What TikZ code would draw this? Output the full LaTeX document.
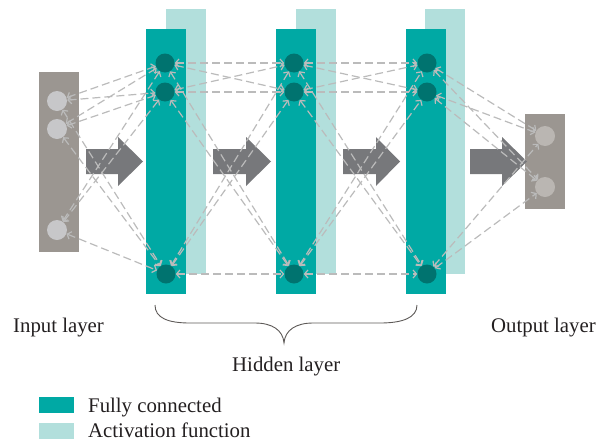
\documentclass[tikz,border=0pt]{standalone}
\usepackage{fontspec}
\setmainfont{Liberation Serif}
\usetikzlibrary{arrows.meta}
\definecolor{tealc}{HTML}{00A9A4}
\definecolor{lteal}{HTML}{B2DFDC}
\definecolor{dteal}{HTML}{00736F}
\definecolor{boxgray}{HTML}{9B9691}
\definecolor{incirc}{HTML}{C7C7C9}
\definecolor{outcirc}{HTML}{BAB6B2}
\definecolor{arrowc}{HTML}{77787B}
\definecolor{linec}{HTML}{BBBBBB}
\definecolor{textc}{HTML}{231F20}
\definecolor{bracec}{HTML}{5E5A58}
\tikzset{
  fcbar/.style={fill=tealc, draw=none, minimum width=40pt, minimum height=265pt, inner sep=0pt},
  actbar/.style={fill=lteal, draw=none, minimum width=40pt, minimum height=265pt, inner sep=0pt},
  graybox/.style={fill=boxgray, draw=none, minimum width=40pt, inner sep=0pt},
  hnode/.style={circle, fill=dteal, minimum size=19pt, inner sep=0pt},
  inode/.style={circle, fill=incirc, minimum size=20pt, inner sep=0pt},
  onode/.style={circle, fill=outcirc, minimum size=20pt, inner sep=0pt},
  conn/.style={draw=linec, line width=1.2pt, dash pattern=on 8pt off 4pt,
    {Straight Barb[length=3.5pt,width=8pt]}-{Straight Barb[length=3.5pt,width=8pt]}},
  bigarrow/.style={fill=arrowc, draw=none},
  lbl/.style={font=\fontsize{20.8}{24}\selectfont, text=textc, inner sep=0pt, anchor=base west},
  legbox/.style={minimum width=35pt, minimum height=16pt, inner sep=0pt, draw=none}
}
\begin{document}
\begin{tikzpicture}[x=1pt, y=-1pt]
\useasboundingbox (0,0) rectangle (599,442);
% activation bars
\node[actbar] (a1) at (186,141.5) {};
\node[actbar] (a2) at (316,141.5) {};
\node[actbar] (a3) at (445,141.5) {};
% fully connected bars
\node[fcbar] (f1) at (166,161.5) {};
\node[fcbar] (f2) at (296,161.5) {};
\node[fcbar] (f3) at (426,161.5) {};
% input / output boxes
\node[graybox, minimum height=180pt] (inbox) at (59,162) {};
\node[graybox, minimum height=95pt] (outbox) at (545,161.5) {};
% big arrows
\fill[bigarrow] (86,149) -- (118,149) -- (118,137) -- (143,161.5) -- (118,186) -- (118,174) -- (86,174) -- cycle;
\fill[bigarrow] (213,149) -- (246,149) -- (246,137) -- (271,161.5) -- (246,186) -- (246,174) -- (213,174) -- cycle;
\fill[bigarrow] (343,149) -- (376,149) -- (376,137) -- (400,161.5) -- (376,186) -- (376,174) -- (343,174) -- cycle;
\fill[bigarrow] (470,149) -- (502,149) -- (502,137) -- (527,161.5) -- (502,186) -- (502,174) -- (470,174) -- cycle;
% neurons
\node[inode] (i1) at (57,101) {};
\node[inode] (i2) at (57,129) {};
\node[inode] (i3) at (57,230) {};
\node[hnode] (h11) at (165,63) {};
\node[hnode] (h12) at (165,92) {};
\node[hnode] (h13) at (166,274) {};
\node[hnode] (h21) at (294,63) {};
\node[hnode] (h22) at (294,92) {};
\node[hnode] (h23) at (294,274) {};
\node[hnode] (h31) at (427,63) {};
\node[hnode] (h32) at (427,92) {};
\node[hnode] (h33) at (427,274) {};
\node[onode] (o1) at (545,136) {};
\node[onode] (o2) at (545,187) {};
% connections
\foreach \a in {i1,i2,i3}{\foreach \b in {h11,h12,h13}{\draw[conn] (\a) -- (\b);}}
\foreach \a in {h11,h12,h13}{\foreach \b in {h21,h22,h23}{\draw[conn] (\a) -- (\b);}}
\foreach \a in {h21,h22,h23}{\foreach \b in {h31,h32,h33}{\draw[conn] (\a) -- (\b);}}
\foreach \a in {h31,h32,h33}{\foreach \b in {o1,o2}{\draw[conn] (\a) -- (\b);}}
% brace
\coordinate (bl) at (155,305);
\coordinate (br) at (417,305);
\coordinate (bt) at (284,343);
\draw[bracec, line width=0.9pt] (bl) .. controls (155,318) and (168,323) .. (190,323) -- (255,323) .. controls (272,323) and (283,330) .. (bt)
  .. controls (285,330) and (296,323) .. (313,323) -- (380,323) .. controls (402,323) and (417,318) .. (br);
% labels
\node[lbl] (tin) at (13,332) {Input layer};
\node[lbl] (tout) at (491,332) {Output layer};
\node[lbl] (thid) at (232,371) {Hidden layer};
% legend
\node[legbox, fill=tealc] (lg1) at (56.5,405) {};
\node[legbox, fill=lteal] (lg2) at (56.5,430.5) {};
\node[lbl] (tfc) at (88,412) {Fully connected};
\node[lbl] (tact) at (88,437) {Activation function};
\end{tikzpicture}
\end{document}
